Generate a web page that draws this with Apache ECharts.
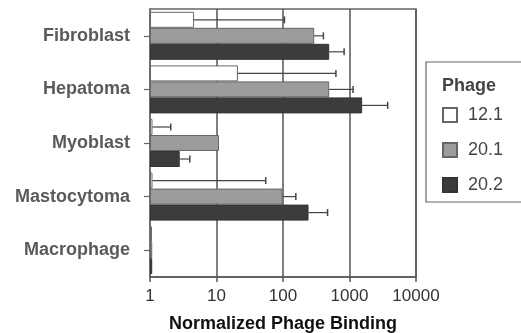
<!DOCTYPE html>
<html>
<head>
<meta charset="utf-8">
<script src="https://cdn.jsdelivr.net/npm/echarts@6/dist/echarts.min.js"></script>
<style>
  html, body { margin: 0; padding: 0; background: #fff; }
  #chart { width: 521px; height: 333px; }
</style>
</head>
<body>
<div id="chart"></div>
<script>
// cell types, top to bottom
const cells = ['Fibroblast', 'Hepatoma', 'Myoblast', 'Mastocytoma', 'Macrophage']
const xTicks = [1, 10, 100, 1000, 10000]

// bar values (normalized binding) and upper end of error bars
const phage121 = [4.6, 21, 1.09, 1.09, 1.07]
const phage121Err = [105, 625, 2.05, 55, null]
const phage201 = [295, 495, 10.9, 99, 1.08]
const phage201Err = [405, 1130, null, 156, null]
const phage202 = [495, 1550, 2.8, 242, 1.08]
const phage202Err = [830, 3750, 3.97, 468, null]

const font = 'Liberation Sans, Arial, Helvetica, sans-serif'
const barW = 16

function errData (vals, errs) {
  const out = []
  vals.forEach((v, i) => {
    if (errs[i] != null) out.push([v, i, errs[i]])
  })
  return out
}

function errSeries (vals, errs, slot) {
  return {
    type: 'custom',
    name: 'err' + slot,
    z: 5,
    data: errData(vals, errs),
    encode: { x: [0, 2], y: 1 },
    renderItem: function (params, api) {
      const p0 = api.coord([api.value(0), api.value(1)])
      const p1 = api.coord([api.value(2), api.value(1)])
      const y = p0[1] + slot * barW
      return {
        type: 'group',
        children: [
          { type: 'line', shape: { x1: p0[0], y1: y, x2: p1[0], y2: y }, style: { stroke: '#444', lineWidth: 1.2 } },
          { type: 'line', shape: { x1: p1[0], y1: y - 3.5, x2: p1[0], y2: y + 3.5 }, style: { stroke: '#444', lineWidth: 1.5 } }
        ]
      }
    }
  }
}

const chart = echarts.init(document.getElementById('chart'))
chart.setOption({
  animation: false,
  grid: {
    left: 150, right: 105, top: 9, bottom: 56,
    outerBoundsMode: 'none',
    show: true, borderColor: '#666', borderWidth: 1.5
  },
  title: {
    text: 'Phage',
    left: 437,
    top: 72,
    textStyle: { fontFamily: font, fontSize: 18, fontWeight: 'bold', color: '#444' }
  },
  legend: {
    data: ['12.1', '20.1', '20.2'],
    orient: 'vertical',
    left: 437,
    top: 101,
    itemWidth: 14,
    itemHeight: 14,
    itemGap: 17,
    icon: 'rect',
    selectedMode: false,
    textStyle: { fontFamily: font, fontSize: 18, color: '#444', padding: [0, 0, 0, 6] }
  },
  graphic: [
    {
      type: 'rect',
      shape: { x: 426, y: 62, width: 110, height: 140 },
      style: { fill: 'none', stroke: '#666', lineWidth: 1.2 },
      silent: true
    }
  ],
  xAxis: {
    type: 'log',
    logBase: 10,
    min: 1,
    max: 10000,
    name: 'Normalized Phage Binding',
    nameLocation: 'middle',
    nameGap: 38,
    nameTextStyle: { fontFamily: font, fontSize: 18, fontWeight: 'bold', color: '#111' },
    axisLine: { show: true, lineStyle: { color: '#555', width: 1.5 } },
    axisTick: { show: true, length: 5, lineStyle: { color: '#555', width: 1.5 } },
    axisLabel: {
      fontFamily: font,
      fontSize: 17,
      color: '#333',
      margin: 11,
      formatter: v => xTicks.indexOf(Math.round(v)) >= 0 ? String(Math.round(v)) : ''
    },
    splitLine: { show: true, lineStyle: { color: '#555', width: 1.5 } },
    minorTick: { show: false }
  },
  yAxis: {
    type: 'category',
    data: cells,
    inverse: true,
    axisLine: { show: true, lineStyle: { color: '#777', width: 1.5 } },
    axisTick: { show: true, alignWithLabel: true, length: 6, lineStyle: { color: '#666', width: 1.2 } },
    axisLabel: { fontFamily: font, fontSize: 18, fontWeight: 'bold', color: '#5a5a5a', margin: 20 }
  },
  series: [
    {
      name: '12.1',
      type: 'bar',
      barWidth: barW,
      barGap: '0%',
      data: phage121,
      itemStyle: { color: '#ffffff', borderColor: '#666', borderWidth: 1 }
    },
    {
      name: '20.1',
      type: 'bar',
      barWidth: barW,
      barGap: '0%',
      data: phage201,
      itemStyle: { color: '#9c9c9c', borderColor: '#666', borderWidth: 1 }
    },
    {
      name: '20.2',
      type: 'bar',
      barWidth: barW,
      barGap: '0%',
      data: phage202,
      itemStyle: { color: '#3c3c3c', borderColor: '#333', borderWidth: 1 }
    },
    errSeries(phage121, phage121Err, -1),
    errSeries(phage201, phage201Err, 0),
    errSeries(phage202, phage202Err, 1)
  ]
})
</script>
</body>
</html>
